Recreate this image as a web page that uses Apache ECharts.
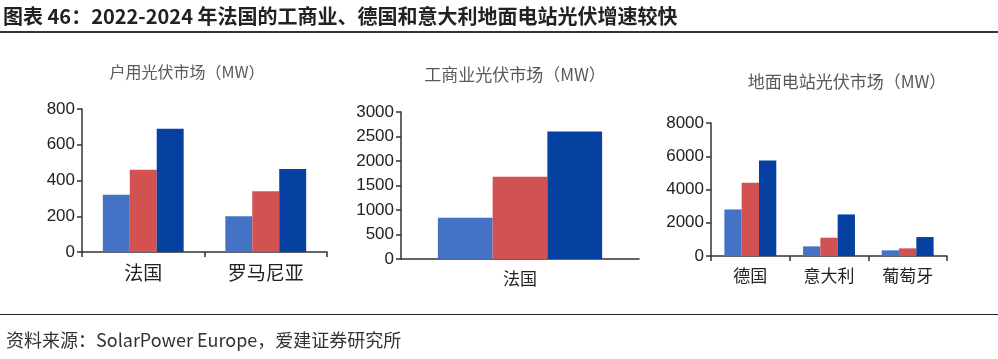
<!DOCTYPE html>
<html><head><meta charset="utf-8">
<script src="https://cdn.jsdelivr.net/npm/echarts@6/dist/echarts.min.js"></script>
<style>html,body{margin:0;padding:0;background:#fff}#c{width:998px;height:359px}</style>
</head><body><div id="c"></div>
<script>
const years = ['2022', '2023', '2024'];
const colors = ['#4472C4', '#D25252', '#0640A0'];

const resCats = ['法国', '罗马尼亚'];
const res2022 = [320, 200];
const res2023 = [460, 340];
const res2024 = [690, 465];

const ciCats = ['法国'];
const ci2022 = [840];
const ci2023 = [1680];
const ci2024 = [2600];

const utilCats = ['德国', '意大利', '葡萄牙'];
const util2022 = [2800, 580, 340];
const util2023 = [4400, 1100, 460];
const util2024 = [5750, 2500, 1140];

const titles = ['户用光伏市场（MW）', '工商业光伏市场（MW）', '地面电站光伏市场（MW）'];
const yMax = [800, 3000, 8000];
const yInt = [200, 500, 2000];

const FONT = '"Liberation Sans", "Noto Sans CJK SC", sans-serif';
const CJK = '"Noto Sans CJK SC", "Liberation Sans", sans-serif';

const chart = echarts.init(document.getElementById('c'));
const grids = [
  {left: 82, right: 671, top: 109, bottom: 107},
  {left: 401, right: 359, top: 112, bottom: 100},
  {left: 711, right: 51, top: 123, bottom: 103}
];
const catSets = [resCats, ciCats, utilCats];
const dataSets = [[res2022, res2023, res2024], [ci2022, ci2023, ci2024], [util2022, util2023, util2024]];
const catFont = [19, 17, 17];
const yFont = [17, 17, 17];
const gaps = ['34%', '31%', '34%'];

const xAxis = [], yAxis = [], series = [];
for (let i = 0; i < 3; i++) {
  xAxis.push({
    type: 'category', gridIndex: i, data: catSets[i],
    axisLine: {lineStyle: {color: '#333', width: 1.5}},
    axisTick: {show: i !== 1, length: 5, lineStyle: {color: '#333', width: 1.5}},
    axisLabel: {color: '#222', fontSize: catFont[i], fontFamily: CJK, margin: 11}
  });
  yAxis.push({
    type: 'value', gridIndex: i, min: 0, max: yMax[i], interval: yInt[i],
    splitLine: {show: false},
    axisLine: {show: true, lineStyle: {color: '#333', width: 1.5}},
    axisTick: {show: true, length: 5, lineStyle: {color: '#333', width: 1.5}},
    axisLabel: {color: '#222', fontSize: yFont[i], fontFamily: FONT, margin: 7, formatter: v => String(v)}
  });
  for (let s = 0; s < 3; s++) {
    series.push({
      type: 'bar', name: years[s], xAxisIndex: i, yAxisIndex: i,
      data: dataSets[i][s], barGap: '0%', barCategoryGap: gaps[i],
      itemStyle: {color: colors[s]}, silent: true
    });
  }
}

const titleCenters = [[187, 72], [515, 75], [847, 82]];
const titleSizes = [16, 17, 17];
const graphic = [
  {type: 'text', left: 3, top: 6, style: {text: '图表 46：2022-2024 年法国的工商业、德国和意大利地面电站光伏增速较快', font: 'bold 20px ' + CJK, fill: '#222'}},
  {type: 'rect', shape: {x: 0, y: 31, width: 998, height: 2}, style: {fill: '#333'}},
  {type: 'rect', shape: {x: 0, y: 314, width: 998, height: 1}, style: {fill: '#222'}},
  {type: 'text', left: 6, top: 331, style: {text: '资料来源：SolarPower Europe，爱建证券研究所', font: '18px ' + CJK, fill: '#333'}}
];
for (let i = 0; i < 3; i++) {
  graphic.push({type: 'text', x: titleCenters[i][0], y: titleCenters[i][1],
    style: {text: titles[i], font: titleSizes[i] + 'px ' + CJK, fill: '#595959', textAlign: 'center', textVerticalAlign: 'middle'}});
}

chart.setOption({
  animation: false,
  backgroundColor: '#fff',
  grid: grids,
  xAxis: xAxis,
  yAxis: yAxis,
  series: series,
  graphic: graphic
});
</script></body></html>
